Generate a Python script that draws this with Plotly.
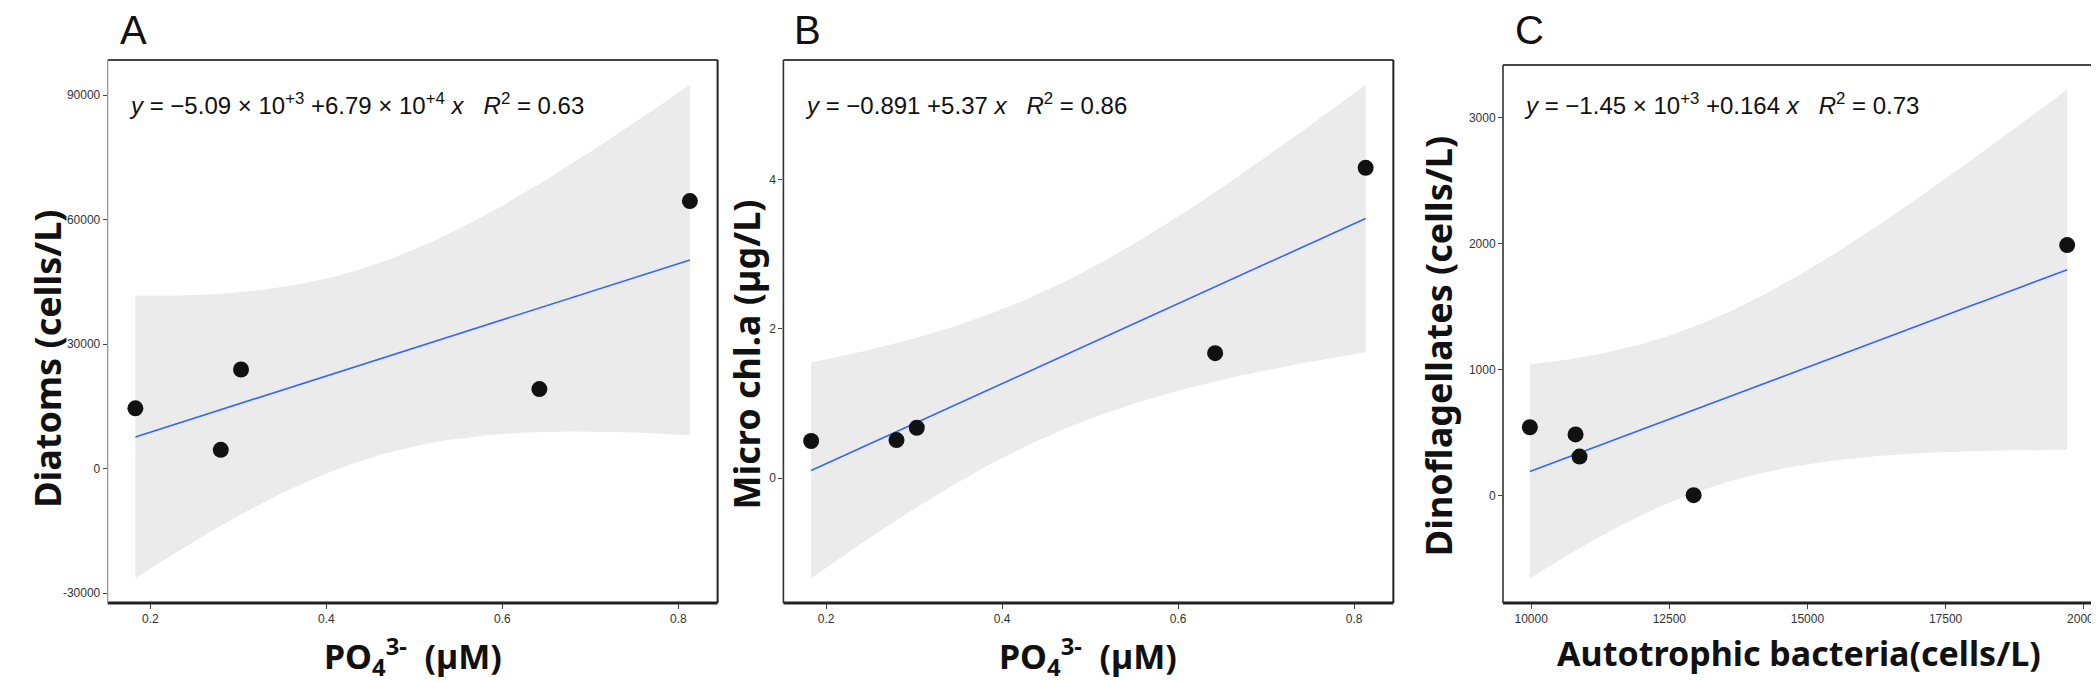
import numpy as np
import plotly.graph_objects as go

W, H = 2099, 682

# ---------------- data ----------------
po4 = [0.183, 0.280, 0.303, 0.642, 0.813]
diatoms = [14560, 4560, 23920, 19200, 64500]
micro_chla = [0.498, 0.511, 0.676, 1.676, 4.16]
auto_bact = [9976, 10803, 10875, 12940, 19700]
dinoflag = [543, 486, 310, 3, 1990]

panel_letters = ["A", "B", "C"]
y_titles = ["Diatoms (cells/L)", "Micro chl.a (µg/L)", "Dinoflagellates (cells/L)"]
x_titles = ["PO<sub>4</sub><sup>3-</sup>  (µM)", "PO<sub>4</sub><sup>3-</sup>  (µM)",
            "Autotrophic bacteria(cells/L)"]
equations = [
    "<i>y</i> = \u22125.09 \u00d7 10<sup>+3</sup> +6.79 \u00d7 10<sup>+4</sup> <i>x</i>   <i>R</i><sup>2</sup> = 0.63",
    "<i>y</i> = \u22120.891 +5.37 <i>x</i>   <i>R</i><sup>2</sup> = 0.86",
    "<i>y</i> = \u22121.45 \u00d7 10<sup>+3</sup> +0.164 <i>x</i>   <i>R</i><sup>2</sup> = 0.73",
]
y_ticks = [[-30000, 0, 30000, 60000, 90000], [0, 2, 4], [0, 1000, 2000, 3000]]
x_ticks = [[0.2, 0.4, 0.6, 0.8], [0.2, 0.4, 0.6, 0.8], [10000, 12500, 15000, 17500, 20000]]
x_tick_text = [["0.2", "0.4", "0.6", "0.8"], ["0.2", "0.4", "0.6", "0.8"],
               ["10000", "12500", "15000", "17500", "20000"]]

T975_DF3 = 3.182446  # t quantile, 95% CI, n-2 = 3 df

panels = [(po4, diatoms), (po4, micro_chla), (auto_bact, dinoflag)]

# ---------------- layout geometry (pixels) ----------------
x_px = [(100, 712), (778, 1390), (1500, 2093)]
y_px = [(52, 595), (52, 595), (57, 595)]
ytitle_x = [39, 740, 1435]
ytitle_y = [351, 347, 338]
xtitle_top = 620
letter_x = [110, 787, 1510]
eq_x = [119, 798, 1519]

TICK_FONT = "Liberation Sans, Arial, sans-serif"
TITLE_FONT = "Noto Sans, Liberation Sans, sans-serif"

fig = go.Figure()
layout = {}
shapes = []
annotations = []

for i, (xs, ys) in enumerate(panels):
    xs = np.asarray(xs, float)
    ys = np.asarray(ys, float)
    n = len(xs)
    mx = xs.mean()
    sxx = ((xs - mx) ** 2).sum()
    slope = ((xs - mx) * (ys - ys.mean())).sum() / sxx
    icpt = ys.mean() - slope * mx
    resid = ys - (icpt + slope * xs)
    s = np.sqrt((resid ** 2).sum() / (n - 2))
    grid = np.linspace(xs.min(), xs.max(), 120)
    fit = icpt + slope * grid
    se = s * np.sqrt(1.0 / n + (grid - mx) ** 2 / sxx)
    upper = fit + T975_DF3 * se
    lower = fit - T975_DF3 * se

    ax = "" if i == 0 else str(i + 1)
    xa, ya = "x" + ax, "y" + ax

    fig.add_trace(go.Scatter(
        x=np.concatenate([grid, grid[::-1]]),
        y=np.concatenate([upper, lower[::-1]]),
        fill="toself", fillcolor="#EBEBEB", line=dict(width=0),
        mode="lines", hoverinfo="skip", showlegend=False, xaxis=xa, yaxis=ya))
    fig.add_trace(go.Scatter(
        x=grid, y=fit, mode="lines", line=dict(color="#3366FF", width=1.6),
        showlegend=False, xaxis=xa, yaxis=ya))
    fig.add_trace(go.Scatter(
        x=xs, y=ys, mode="markers",
        marker=dict(color="#111111", size=16, line=dict(width=0)),
        showlegend=False, xaxis=xa, yaxis=ya))

    xr = xs.max() - xs.min()
    ylo = min(lower.min(), ys.min())
    yhi = max(upper.max(), ys.max())
    yr = yhi - ylo

    x0, x1 = x_px[i]
    yt, yb = y_px[i]
    layout["xaxis" + ax] = dict(
        domain=[x0 / W, x1 / W], anchor=ya,
        range=[xs.min() - 0.05 * xr, xs.max() + 0.05 * xr],
        tickmode="array", tickvals=x_ticks[i], ticktext=x_tick_text[i],
        ticks="outside", ticklen=5, tickcolor="#444", tickwidth=1,
        ticklabeloverflow="allow",
        tickfont=dict(family=TICK_FONT, size=12, color="#333"),
        showgrid=False, zeroline=False, showline=False)
    layout["yaxis" + ax] = dict(
        domain=[1 - yb / H, 1 - yt / H], anchor=xa,
        range=[ylo - 0.05 * yr, yhi + 0.05 * yr],
        tickmode="array", tickvals=y_ticks[i], ticktext=[str(v) for v in y_ticks[i]],
        ticks="outside", ticklen=4, tickcolor="#444", tickwidth=1,
        tickfont=dict(family=TICK_FONT, size=12, color="#333"),
        showgrid=False, zeroline=False, showline=False)

    xd, yd = xa + " domain", ya + " domain"
    left_col = "#999999" if i == 0 else "#333333"
    left_w = 1.3 if i == 0 else 1.6
    shapes += [
        dict(type="line", xref=xd, yref=yd, x0=0, x1=1, y0=0, y1=0,
             line=dict(color="#222222", width=2.8)),
        dict(type="line", xref=xd, yref=yd, x0=0, x1=1, y0=1, y1=1,
             line=dict(color="#444444", width=2)),
        dict(type="line", xref=xd, yref=yd, x0=1, x1=1, y0=0, y1=1,
             line=dict(color="#222222", width=2)),
        dict(type="line", xref=xd, yref=yd, x0=0, x1=0, y0=0, y1=1,
             line=dict(color=left_col, width=left_w)),
    ]

    annotations += [
        dict(text=panel_letters[i], xref="paper", yref="paper",
             x=letter_x[i] / W, y=1 - 22 / H, xanchor="left", yanchor="middle",
             showarrow=False, font=dict(family="Liberation Sans, Arial, sans-serif",
                                        size=40, color="#111")),
        dict(text=equations[i], xref="paper", yref="paper",
             x=eq_x[i] / W, y=1 - 96 / H, xanchor="left", yanchor="middle",
             showarrow=False, font=dict(family=TICK_FONT, size=24, color="#111")),
        dict(text="<b>" + y_titles[i] + "</b>", xref="paper", yref="paper",
             x=ytitle_x[i] / W, y=1 - ytitle_y[i] / H, xanchor="center", yanchor="middle",
             textangle=-90, showarrow=False,
             font=dict(family=TITLE_FONT, size=36, color="#111")),
        dict(text="<b>" + x_titles[i] + "</b>", xref="paper", yref="paper",
             x=(x0 + x1) / 2 / W, y=1 - xtitle_top / H, xanchor="center", yanchor="top",
             showarrow=False, font=dict(family=TITLE_FONT, size=34, color="#111")),
    ]

fig.update_layout(
    width=W, height=H,
    margin=dict(l=0, r=0, t=0, b=0),
    paper_bgcolor="white", plot_bgcolor="white",
    shapes=shapes, annotations=annotations,
    **layout)

fig.write_html("out.html")
